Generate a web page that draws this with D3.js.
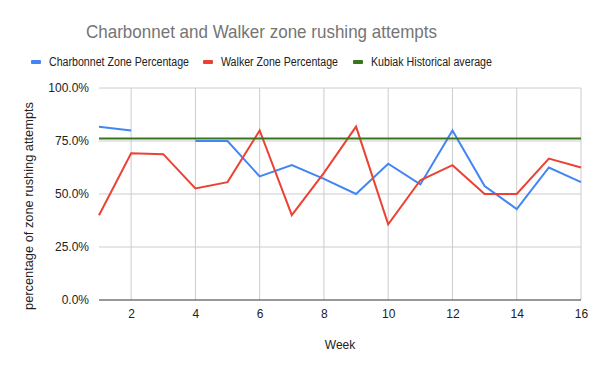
<!DOCTYPE html>
<html>
<head>
<meta charset="utf-8">
<script src="https://cdn.jsdelivr.net/npm/d3@7"></script>
<style>
  body { margin: 0; background: #fff; }
  text { font-family: "Liberation Sans", Arial, sans-serif; }
</style>
</head>
<body>
<svg class="canvas" width="600" height="371"></svg>
<script>
var weeks = [1, 2, 3, 4, 5, 6, 7, 8, 9, 10, 11, 12, 13, 14, 15, 16]
// null = no data that week (gap in line)
var charbonnet = [0.817, 0.80, null, 0.75, 0.75, 0.583, 0.636, 0.571, 0.50, 0.643, 0.545, 0.80, 0.538, 0.429, 0.625, 0.556]
var walker = [0.40, 0.692, 0.688, 0.526, 0.556, 0.80, 0.40, 0.60, 0.818, 0.357, 0.565, 0.636, 0.50, 0.50, 0.667, 0.625]
var kubiak = 0.762
var yTicks = [0, 0.25, 0.5, 0.75, 1]
var xTicks = [2, 4, 6, 8, 10, 12, 14, 16]

var series = [
    {name: "Charbonnet Zone Percentage", color: "#4285f4", values: charbonnet},
    {name: "Walker Zone Percentage", color: "#ea4335", values: walker},
    {name: "Kubiak Historical average", color: "#38761d", values: weeks.map(function() { return kubiak; })}
]

var svg = d3.select('.canvas')

var x = d3.scaleLinear().domain([1, 16]).range([99, 581])
var y = d3.scaleLinear().domain([0, 1]).range([300, 88])

// gridlines
svg.append("g")
    .selectAll("line")
    .data(yTicks.slice(1))
    .enter()
    .append("line")
        .attr("x1", x(1)).attr("x2", x(16))
        .attr("y1", function(d) { return y(d); })
        .attr("y2", function(d) { return y(d); })
        .style("stroke", "#cccccc")

svg.append("g")
    .selectAll("line")
    .data(xTicks)
    .enter()
    .append("line")
        .attr("x1", function(d) { return x(d); })
        .attr("x2", function(d) { return x(d); })
        .attr("y1", y(1)).attr("y2", y(0))
        .style("stroke", "#cccccc")

// y axis labels
var yAxis = svg.append("g")
    .attr("transform", "translate(" + (x(1) - 7) + ",0)")
    .call(d3.axisLeft(y).tickValues(yTicks).tickSize(0).tickFormat(d3.format(".1%")))
yAxis.select(".domain").remove()
yAxis.selectAll("text")
    .style("font-size", "12px")
    .style("fill", "#222")
    .style("font-family", "'Liberation Sans', Arial, sans-serif")

// x axis labels
var xAxis = svg.append("g")
    .attr("transform", "translate(0," + (y(0) + 6) + ")")
    .call(d3.axisBottom(x).tickValues(xTicks).tickSize(0))
xAxis.select(".domain").remove()
xAxis.selectAll("text")
    .style("font-size", "12px")
    .style("fill", "#222")
    .style("font-family", "'Liberation Sans', Arial, sans-serif")

// lines
var line = d3.line()
    .defined(function(d) { return d != null; })
    .x(function(d, i) { return x(weeks[i]); })
    .y(function(d) { return y(d); })

svg.append("g")
    .selectAll("path")
    .data(series)
    .enter()
    .append("path")
        .attr("d", function(d) { return line(d.values); })
        .style("fill", "none")
        .style("stroke", function(d) { return d.color; })
        .style("stroke-width", 2)

// baseline
svg.append("line")
    .attr("x1", x(1)).attr("x2", x(16))
    .attr("y1", y(0)).attr("y2", y(0))
    .style("stroke", "#333333")

// title
svg.append("text")
    .attr("x", 86).attr("y", 38)
    .text("Charbonnet and Walker zone rushing attempts")
    .style("font-size", "19px")
    .attr("textLength", 351)
    .attr("lengthAdjust", "spacingAndGlyphs")
    .style("fill", "#757575")

// legend
var legendX = [31, 203, 353]
var legendW = [140, 117, 121]
var legend = svg.append("g")
    .selectAll("g")
    .data(series)
    .enter()
    .append("g")
        .attr("transform", function(d, i) { return "translate(" + legendX[i] + ",62)"; })
legend.append("rect")
    .attr("x", 0).attr("y", -2)
    .attr("width", 10).attr("height", 4)
    .attr("rx", 1)
    .style("fill", function(d) { return d.color; })
legend.append("text")
    .attr("x", 18).attr("y", 4)
    .text(function(d) { return d.name; })
    .attr("textLength", function(d, i) { return legendW[i]; })
    .attr("lengthAdjust", "spacingAndGlyphs")
    .style("font-size", "12px")
    .style("fill", "#222")

// axis titles
svg.append("text")
    .attr("x", x(8.5)).attr("y", 349)
    .attr("text-anchor", "middle")
    .text("Week")
    .style("font-size", "12px")
    .style("fill", "#222")

svg.append("text")
    .attr("transform", "translate(33,206) rotate(-90)")
    .attr("text-anchor", "middle")
    .text("percentage of zone rushing attempts")
    .attr("textLength", 208)
    .attr("lengthAdjust", "spacingAndGlyphs")
    .style("font-size", "12px")
    .style("fill", "#222")
</script>
</body>
</html>
